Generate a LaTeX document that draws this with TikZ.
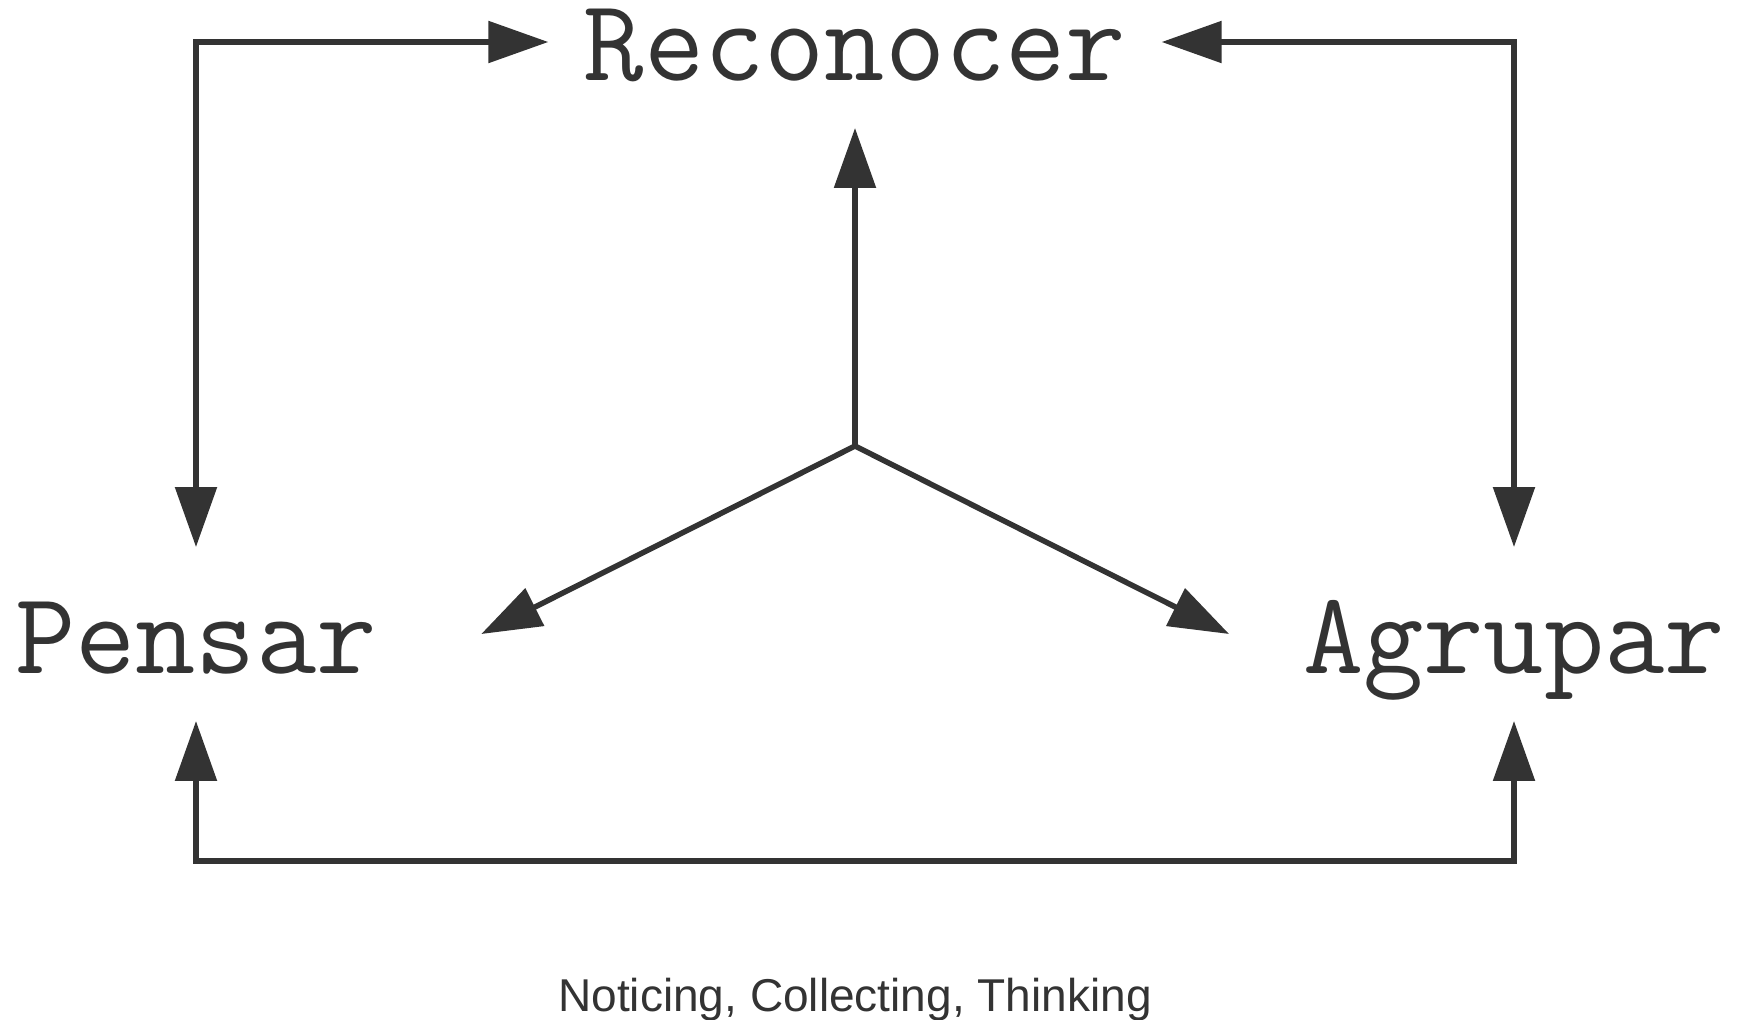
\documentclass[tikz,border=0pt]{standalone}
\usepackage{fontspec}
\setsansfont{Liberation Sans}
\usetikzlibrary{positioning,arrows.meta}
\definecolor{ink}{HTML}{333333}

\begin{document}
\begin{tikzpicture}[x=0.02cm,y=-0.02cm,color=ink,line width=0.11cm,
  >={Triangle[length=1.2cm,width=0.82cm]},
  word/.style={font=\fontsize{66.6pt}{72pt}\selectfont\ttfamily,inner ysep=0pt,outer sep=0pt,text height=2.52cm,text depth=0.96cm}]
\useasboundingbox (0,0) rectangle (1739,1019);
\node[word,inner xsep=0.71cm,text height=1.52cm,text depth=0pt] (0) at (855,42) {Reconocer};
\node[word,inner xsep=2.09cm] (1) at (196,634) {Pensar};
\node[word,inner xsep=1.48cm] (2) at (1514,634) {Agrupar};
\node[anchor=base,font=\fontsize{26.2pt}{30pt}\selectfont\sffamily] (3) at (855,1011) {Noticing, Collecting, Thinking};
\coordinate (c) at (855,446);
\draw[<->] (1.north) |- (0.west);
\draw[<->] (2.north) |- (0.east);
\draw[<->] (1.south) -- ++(0,140) -| (2.south);
\draw[->,shorten >=0.96cm] (c) -- (0.south);
\draw[->] (c) -- (1.east);
\draw[->] (c) -- (2.west);
\end{tikzpicture}
\end{document}
